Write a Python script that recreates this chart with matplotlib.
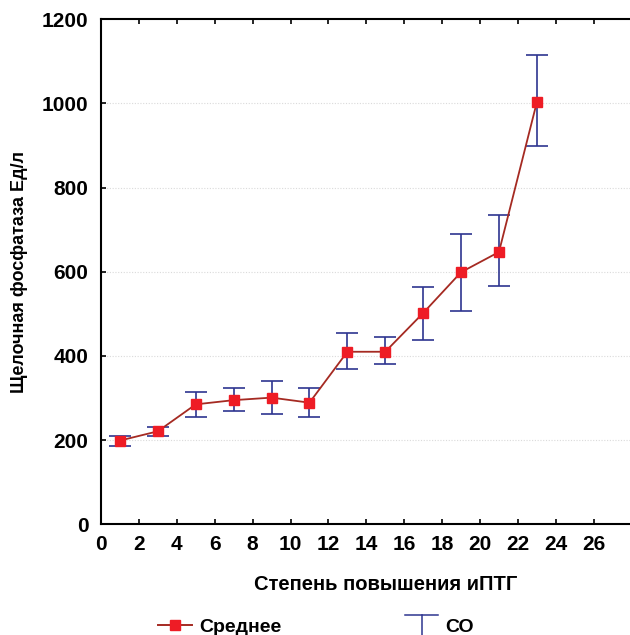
import matplotlib
matplotlib.use("Agg")
import matplotlib.pyplot as plt
from matplotlib.lines import Line2D
from matplotlib.legend_handler import HandlerBase
import numpy as np

x = [1, 3, 5, 7, 9, 11, 13, 15, 17, 19, 21, 23]
mean = [199, 221, 285, 295, 301, 289, 410, 410, 502, 599, 647, 1003]
upper = [211, 232, 315, 325, 341, 324, 455, 446, 565, 690, 734, 1115]
lower = [187, 211, 255, 269, 262, 256, 369, 380, 438, 508, 566, 899]
xticks = list(range(0, 27, 2))
yticks = [0, 200, 400, 600, 800, 1000, 1200]
labels = ['Среднее', 'СО']

plt.rcParams['font.family'] = ['Liberation Sans', 'DejaVu Sans']
plt.rcParams['font.weight'] = 'bold'

W, H = 630, 635
fig = plt.figure(figsize=(W / 100, H / 100), dpi=100)
ux = 18.95
ax = fig.add_axes([101 / W, (H - 524.3) / H, 30 * ux / W, 505 / H])

navy = '#2E3590'
dred = '#A52A22'
red = '#EE1C25'

mean_a = np.array(mean)
yerr = np.vstack([mean_a - np.array(lower), np.array(upper) - mean_a])
ax.errorbar(x, mean, yerr=yerr, fmt='none', ecolor=navy, elinewidth=1.2,
            capsize=7.8, capthick=1.2, zorder=2)
ax.plot(x, mean, '-', color=dred, lw=1.3, zorder=3)
ax.plot(x, mean, 's', color=red, ms=6.5, zorder=4, mec=red)

ax.set_xlim(0, 30)
ax.set_ylim(0, 1200)
ax.set_xticks(xticks)
ax.set_yticks(yticks)
ax.tick_params(axis='both', labelsize=15, width=1.2, length=3.8, direction='in')
ax.tick_params(axis='x', top=True, pad=8)
ax.tick_params(axis='y', pad=9)
for lab in ax.get_xticklabels() + ax.get_yticklabels():
    lab.set_fontweight('bold')
for s in ax.spines.values():
    s.set_linewidth(1.5)
for yv in yticks[1:-1]:
    ax.axhline(yv, color='#DADADA', lw=0.8, ls=(0, (1, 1.5)), zorder=0)

ax.set_xlabel('Степень повышения иПТГ', fontsize=14.5, fontweight='bold', labelpad=15)
ax.set_ylabel('Щелочная фосфатаза Ед/л', fontsize=13, fontweight='bold', labelpad=10)


class HandlerT(HandlerBase):
    def create_artists(self, legend, orig_handle, xdescent, ydescent,
                       width, height, fontsize, trans):
        cx = -xdescent + width / 2
        cy = -ydescent + height / 2
        top = cy + 7.5
        cap = Line2D([-xdescent, -xdescent + width], [top, top], color=navy, lw=1.1,
                     transform=trans)
        vert = Line2D([cx, cx], [top, cy - 16], color=navy, lw=1.1, transform=trans)
        return [cap, vert]


h1 = Line2D([], [], color=dred, lw=1.4, marker='s', ms=6.5, mfc=red, mec=red)
h2 = Line2D([], [], color=navy)
leg_kw = dict(loc='center left', frameon=False, borderpad=0, borderaxespad=0,
              prop={'size': 14, 'weight': 'bold'}, handletextpad=0.35)
fig.legend([h1], [labels[0]], bbox_to_anchor=(158 / W, 1 - 627 / H),
           handlelength=34 / 19.4, **leg_kw)
fig.legend([h2], [labels[1]], bbox_to_anchor=(405 / W, 1 - 627 / H),
           handlelength=33 / 19.4, handler_map={h2: HandlerT()}, **leg_kw)

fig.savefig('out.png', dpi=100)
